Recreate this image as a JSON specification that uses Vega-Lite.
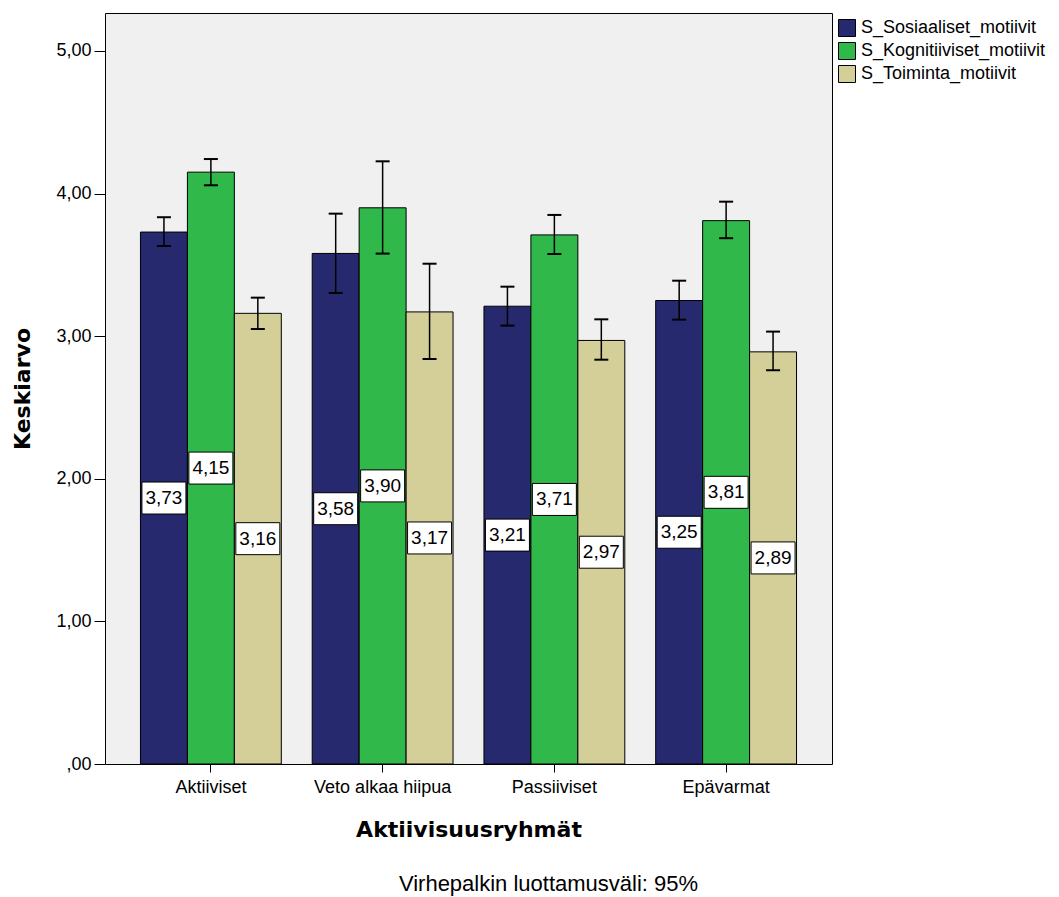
{
  "$schema": "https://vega.github.io/schema/vega-lite/v6.json",
  "autosize": {"type": "none"},
  "padding": {"left": 105, "top": 13, "right": 227, "bottom": 133},
  "width": 727,
  "height": 751,
  "background": "#ffffff",
  "config": {
    "font": "Liberation Sans",
    "locale": {"number": {"decimal": ",", "thousands": " ", "grouping": [3], "currency": ["", " €"]}},
    "view": {"fill": "#f0f0f0", "stroke": "#000000", "strokeWidth": 1}
  },
  "title": {
    "text": "Virhepalkin luottamusväli: 95%",
    "orient": "bottom",
    "anchor": "middle",
    "fontSize": 22,
    "fontWeight": "normal",
    "font": "Liberation Sans",
    "color": "#000000",
    "dx": 80,
    "offset": 34
  },
  "data": {
    "values": [
      {"group": "Aktiiviset", "motive": "S_Sosiaaliset_motiivit", "mean": 3.73, "lo": 3.632, "hi": 3.834},
      {"group": "Aktiiviset", "motive": "S_Kognitiiviset_motiivit", "mean": 4.15, "lo": 4.058, "hi": 4.242},
      {"group": "Aktiiviset", "motive": "S_Toiminta_motiivit", "mean": 3.16, "lo": 3.05, "hi": 3.27},
      {"group": "Veto alkaa hiipua", "motive": "S_Sosiaaliset_motiivit", "mean": 3.58, "lo": 3.303, "hi": 3.859},
      {"group": "Veto alkaa hiipua", "motive": "S_Kognitiiviset_motiivit", "mean": 3.90, "lo": 3.579, "hi": 4.226},
      {"group": "Veto alkaa hiipua", "motive": "S_Toiminta_motiivit", "mean": 3.17, "lo": 2.84, "hi": 3.508},
      {"group": "Passiiviset", "motive": "S_Sosiaaliset_motiivit", "mean": 3.21, "lo": 3.074, "hi": 3.347},
      {"group": "Passiiviset", "motive": "S_Kognitiiviset_motiivit", "mean": 3.71, "lo": 3.576, "hi": 3.85},
      {"group": "Passiiviset", "motive": "S_Toiminta_motiivit", "mean": 2.97, "lo": 2.835, "hi": 3.118},
      {"group": "Epävarmat", "motive": "S_Sosiaaliset_motiivit", "mean": 3.25, "lo": 3.116, "hi": 3.389},
      {"group": "Epävarmat", "motive": "S_Kognitiiviset_motiivit", "mean": 3.81, "lo": 3.687, "hi": 3.943},
      {"group": "Epävarmat", "motive": "S_Toiminta_motiivit", "mean": 2.89, "lo": 2.761, "hi": 3.032}
    ]
  },
  "encoding": {
    "x": {
      "field": "group",
      "type": "nominal",
      "sort": ["Aktiiviset", "Veto alkaa hiipua", "Passiiviset", "Epävarmat"],
      "scale": {"paddingInner": 0.18, "paddingOuter": 0.2065},
      "axis": {
        "title": "Aktiivisuusryhmät",
        "titleFont": "DejaVu Sans",
        "titleFontSize": 22,
        "titleFontWeight": "bold",
        "titleColor": "#000000",
        "titlePadding": 23,
        "labelFont": "Liberation Sans",
        "labelFontSize": 18,
        "labelColor": "#000000",
        "labelAngle": 0,
        "labelPadding": 6,
        "tickSize": 8,
        "tickColor": "#000000",
        "domain": false
      }
    },
    "xOffset": {
      "field": "motive",
      "type": "nominal",
      "sort": ["S_Sosiaaliset_motiivit", "S_Kognitiiviset_motiivit", "S_Toiminta_motiivit"],
      "scale": {"paddingInner": 0, "paddingOuter": 0}
    }
  },
  "layer": [
    {
      "mark": {"type": "bar", "stroke": "#000000", "strokeWidth": 1},
      "encoding": {
        "y": {
          "field": "mean",
          "type": "quantitative",
          "scale": {"domain": [0, 5.266], "nice": false, "zero": true},
          "axis": {
            "title": "Keskiarvo",
            "titleFont": "DejaVu Sans",
            "titleFontSize": 22,
            "titleFontWeight": "bold",
            "titleColor": "#000000",
            "titlePadding": 21,
            "values": [0, 1, 2, 3, 4, 5],
            "labelExpr": "datum.value == 0 ? ',00' : replace(format(datum.value, '.2f'), '.', ',')",
            "labelFont": "Liberation Sans",
            "labelFontSize": 18,
            "labelColor": "#000000",
            "labelPadding": 3,
            "tickSize": 11,
            "tickColor": "#000000",
            "grid": false,
            "domain": false
          }
        },
        "color": {
          "field": "motive",
          "type": "nominal",
          "sort": ["S_Sosiaaliset_motiivit", "S_Kognitiiviset_motiivit", "S_Toiminta_motiivit"],
          "scale": {
            "domain": ["S_Sosiaaliset_motiivit", "S_Kognitiiviset_motiivit", "S_Toiminta_motiivit"],
            "range": ["#27296f", "#30b84a", "#d4cf98"]
          },
          "legend": {
            "title": null,
            "orient": "none",
            "legendX": 733,
            "legendY": 6,
            "padding": 0,
            "symbolType": "square",
            "symbolSize": 289,
            "symbolStrokeColor": "#000000",
            "symbolStrokeWidth": 1,
            "symbolOpacity": 1,
            "labelFont": "Liberation Sans",
            "labelFontSize": 18,
            "labelColor": "#000000",
            "labelOffset": 5,
            "rowPadding": 1,
            "labelLimit": 300
          }
        }
      }
    },
    {
      "mark": {"type": "rule", "strokeWidth": 1.5, "color": "#000000"},
      "encoding": {
        "y": {"field": "lo", "type": "quantitative", "scale": {"domain": [0, 5.266], "nice": false}, "axis": null},
        "y2": {"field": "hi"}
      }
    },
    {
      "mark": {"type": "tick", "thickness": 2, "size": 14, "color": "#000000", "opacity": 1},
      "encoding": {
        "y": {"field": "lo", "type": "quantitative", "scale": {"domain": [0, 5.266], "nice": false}, "axis": null}
      }
    },
    {
      "mark": {"type": "tick", "thickness": 2, "size": 14, "color": "#000000", "opacity": 1},
      "encoding": {
        "y": {"field": "hi", "type": "quantitative", "scale": {"domain": [0, 5.266], "nice": false}, "axis": null}
      }
    },
    {
      "mark": {
        "type": "point",
        "shape": "M-1,-0.727L1,-0.727L1,0.727L-1,0.727Z",
        "size": 1936,
        "filled": true,
        "fill": "#ffffff",
        "stroke": "#000000",
        "strokeWidth": 1,
        "opacity": 1
      },
      "encoding": {
        "y": {"field": "mean", "type": "quantitative", "scale": {"domain": [0, 10.532], "nice": false}, "axis": null}
      }
    },
    {
      "mark": {"type": "text", "fontSize": 19, "font": "Liberation Sans", "color": "#000000", "baseline": "middle", "align": "center"},
      "encoding": {
        "y": {"field": "mean", "type": "quantitative", "scale": {"domain": [0, 10.532], "nice": false}, "axis": null},
        "text": {"field": "mean", "type": "quantitative", "format": ".2f"}
      }
    }
  ],
  "resolve": {"scale": {"y": "independent"}}
}
